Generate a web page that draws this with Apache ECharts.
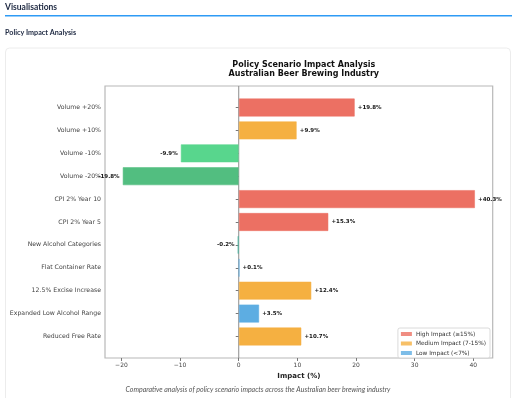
<!DOCTYPE html>
<html>
<head>
<meta charset="utf-8">
<script src="https://cdn.jsdelivr.net/npm/echarts@6/dist/echarts.min.js"></script>
<style>
  html, body { margin: 0; padding: 0; background: #fff; }
  #chart { width: 512px; height: 398px; }
</style>
</head>
<body>
<div id="chart"></div>
<script>
const scenarios = [
  'Volume +20%',
  'Volume +10%',
  'Volume -10%',
  'Volume -20%',
  'CPI 2% Year 10',
  'CPI 2% Year 5',
  'New Alcohol Categories',
  'Flat Container Rate',
  '12.5% Excise Increase',
  'Expanded Low Alcohol Range',
  'Reduced Free Rate',
]
const impacts = [19.8, 9.9, -9.9, -19.8, 40.3, 15.3, -0.2, 0.1, 12.4, 3.5, 10.7]
const xTicks = [-20, -10, 0, 10, 20, 30, 40]
const legendNames = ['High Impact (\u226515%)', 'Medium Impact (7-15%)', 'Low Impact (<7%)']

const HIGH = '#ec7063'
const MEDIUM = '#f5b041'
const LOW = '#5dade2'

const barColor = (v) => {
  if (v >= 15) return HIGH
  if (v >= 7) return MEDIUM
  if (v >= 0) return LOW
  if (v <= -15) return '#52be80'
  if (v <= -7) return '#58d68d'
  return '#45b39d'
}

// matplotlib-like 5% margins around the data range
const lo = Math.min(0, ...impacts)
const hi = Math.max(0, ...impacts)
const pad = (hi - lo) * 0.05
const xMin = lo - pad
const xMax = hi + pad

const FONT = 'DejaVu Sans'
const minus = (v) => (v < 0 ? '\u2212' + Math.abs(v) : String(v))

// plot frame
const plotLeft = 105
const plotRight = 19.3
const plotTop = 86
const plotHeight = 272
// bars sit inside the frame, 0.54 band margin top and bottom
const band = plotHeight / (scenarios.length - 1 + 0.8 + 1.08)
const barTop = plotTop + band * 0.44
const barHeight = band * scenarios.length

const chart = echarts.init(document.getElementById('chart'), null, { renderer: 'canvas' })

const option = {
  animation: false,
  textStyle: { fontFamily: FONT },
  title: {
    text: 'Policy Scenario Impact Analysis\nAustralian Beer Brewing Industry',
    left: 298.8,
    top: 55.5,
    textAlign: 'center',
    textStyle: {
      fontFamily: FONT,
      fontSize: 8,
      fontWeight: 'bold',
      color: '#111',
      lineHeight: 9.2,
    },
  },
  graphic: [
    {
      type: 'text',
      left: 5,
      top: 2.5,
      style: { text: 'Visualisations', font: 'bold 8.5px Lato', fill: '#1c2740' },
    },
    {
      type: 'rect',
      z: 10,
      shape: { x: 5, y: 15, width: 507, height: 1.5 },
      style: { fill: '#2e9bf5', stroke: null },
    },
    {
      type: 'text',
      left: 5,
      top: 29,
      style: { text: 'Policy Impact Analysis', font: 'bold 7.2px Lato', fill: '#1c2740' },
    },
    {
      type: 'rect',
      z: -10,
      shape: { x: 5.5, y: 48, width: 505, height: 370, r: 4 },
      style: { fill: '#fff', stroke: '#ececec', lineWidth: 1 },
    },
    {
      type: 'text',
      x: 258,
      y: 386,
      style: {
        text: 'Comparative analysis of policy scenario impacts across the Australian beer brewing industry',
        font: 'italic 7px Lato',
        fill: '#555',
        align: 'center',
      },
    },
  ],
  legend: {
    data: legendNames.map((n) => ({ name: n, icon: 'rect' })),
    orient: 'vertical',
    right: 22,
    top: 328,
    itemWidth: 11,
    itemHeight: 4,
    itemGap: 3.5,
    padding: [3, 4, 2, 3],
    borderColor: '#d0d0d0',
    borderWidth: 0.8,
    borderRadius: 2,
    backgroundColor: 'rgba(255,255,255,0.85)',
    textStyle: { fontFamily: FONT, fontSize: 5.8, color: '#333', padding: [0, 0, 0, -1] },
  },
  grid: [
    {
      left: plotLeft,
      right: plotRight,
      top: plotTop,
      height: plotHeight,
      show: true,
      borderColor: '#b8b8b8',
      borderWidth: 1.2,
      backgroundColor: 'transparent',
    },
    {
      left: plotLeft,
      right: plotRight,
      top: barTop,
      height: barHeight,
    },
  ],
  xAxis: [
    {
      gridIndex: 0,
      type: 'value',
      min: xMin,
      max: xMax,
      splitLine: { show: false },
      axisLine: { show: false },
      axisTick: { show: true, length: 3, lineStyle: { color: '#777' }, customValues: xTicks },
      axisLabel: {
        customValues: xTicks,
        formatter: minus,
        fontSize: 6,
        color: '#444',
        margin: 4,
      },
      name: 'Impact (%)',
      nameLocation: 'middle',
      nameGap: 15,
      nameTextStyle: { fontFamily: FONT, fontSize: 7, fontWeight: 'bold', color: '#222' },
    },
    {
      gridIndex: 1,
      type: 'value',
      min: xMin,
      max: xMax,
      show: false,
    },
  ],
  yAxis: [
    {
      gridIndex: 0,
      type: 'value',
      min: 0,
      max: 1,
      show: false,
    },
    {
      gridIndex: 1,
      type: 'category',
      data: scenarios,
      inverse: true,
      axisLine: { show: false },
      axisTick: { show: true, alignWithLabel: true, length: 3, lineStyle: { color: '#777' } },
      axisLabel: { fontSize: 6.2, color: '#444', margin: 4 },
      splitLine: { show: false },
    },
  ],
  series: [
    {
      // zero reference line across the whole frame
      type: 'line',
      xAxisIndex: 0,
      yAxisIndex: 0,
      data: [[0, 0], [0, 1]],
      symbol: 'none',
      silent: true,
      lineStyle: { color: '#8c8c8c', width: 1 },
      z: 1,
    },
    {
      name: 'Impact',
      type: 'bar',
      xAxisIndex: 1,
      yAxisIndex: 1,
      barWidth: '80%',
      z: 3,
      data: impacts.map((v) => ({
        value: v,
        itemStyle: { color: barColor(v), borderColor: barColor(v) + '88', borderWidth: 1 },
        label: { position: v < 0 ? 'left' : 'right' },
      })),
      label: {
        show: true,
        distance: 3,
        fontFamily: FONT,
        fontSize: 5.5,
        fontWeight: 'bold',
        color: '#111',
        formatter: (p) => (p.value > 0 ? '+' : '') + p.value.toFixed(1) + '%',
      },
    },
    { name: legendNames[0], type: 'scatter', xAxisIndex: 0, yAxisIndex: 0, data: [], itemStyle: { color: HIGH } },
    { name: legendNames[1], type: 'scatter', xAxisIndex: 0, yAxisIndex: 0, data: [], itemStyle: { color: MEDIUM } },
    { name: legendNames[2], type: 'scatter', xAxisIndex: 0, yAxisIndex: 0, data: [], itemStyle: { color: LOW } },
  ],
}

chart.setOption(option)
</script>
</body>
</html>
